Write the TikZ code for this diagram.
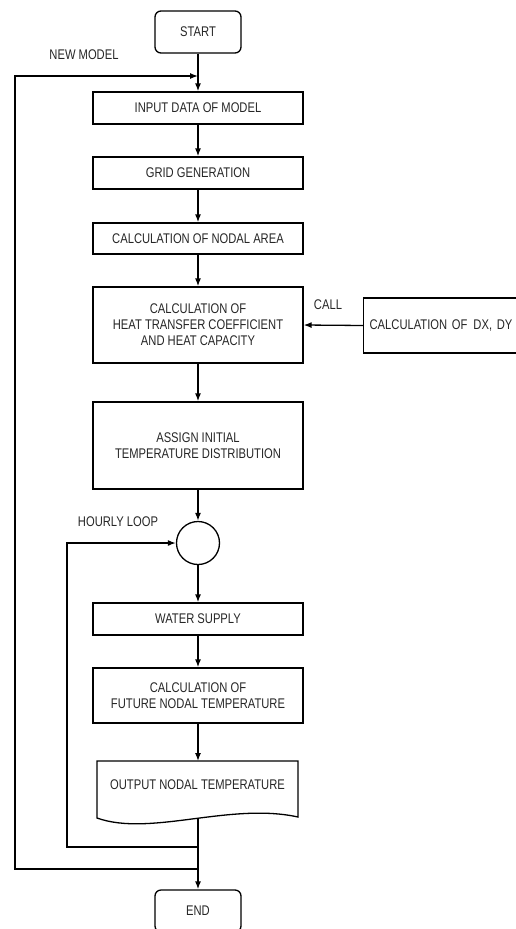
\documentclass[tikz,border=0pt]{standalone}
\usepackage{fontspec}
\setmainfont{Liberation Sans}[FakeStretch=0.8]
\usetikzlibrary{arrows.meta}
\begin{document}
\begin{tikzpicture}[x=1pt,y=-1pt,
  txt/.style={font=\fontsize{14}{16}\selectfont,text=black!85},
  box/.style={txt,draw=black,line width=1.3pt,minimum width=210pt,inner sep=0pt,align=center},
  term/.style={txt,draw=black,line width=1.3pt,rounded corners=6pt,minimum width=86pt,minimum height=42pt,inner sep=0pt},
  lbl/.style={txt,inner sep=0pt},
  ln/.style={line width=1.3pt},
  arr/.style={line width=1.3pt,-{Latex[length=8pt,width=6pt]}}]
\useasboundingbox (0,0) rectangle (516,929);
\clip (0,0) rectangle (516,929);
% nodes
\node[term] (start) at (198,32) {START};
\node[box,minimum height=32pt] (input) at (198,108) {INPUT DATA OF MODEL};
\node[box,minimum height=32pt] (grid) at (198,173) {GRID GENERATION};
\node[box,minimum height=31pt] (area) at (198,238.5) {CALCULATION OF NODAL AREA};
\node[box,minimum height=76pt] (heat) at (198,325) {CALCULATION OF\\HEAT TRANSFER COEFFICIENT\\AND HEAT CAPACITY};
\node[box,minimum height=87pt] (assign) at (198,445.5) {ASSIGN INITIAL\\TEMPERATURE DISTRIBUTION};
\node[circle,draw,line width=1.3pt,minimum size=43pt,inner sep=0pt] (loop) at (198,543) {};
\node[box,minimum height=32pt] (water) at (198,619) {WATER SUPPLY};
\node[box,minimum height=55pt] (future) at (198,695.5) {CALCULATION OF\\FUTURE NODAL TEMPERATURE};
\draw[ln] (97,761) -- (298,761) -- (298,817) .. controls (230,802) and (150,837) .. (97,818) -- cycle;
\node[lbl] (outtxt) at (197.5,785) {OUTPUT NODAL TEMPERATURE};
\coordinate (doctop) at (198,761);
\coordinate (docbot) at (198,818);
\node[term] (end) at (198,911) {END};
\node[txt,draw=black,line width=1.3pt,anchor=west,minimum height=55pt,text width=150pt,inner xsep=6pt,inner ysep=0pt,align=left] (dxdy) at (363,325.5) {CALCULATION OF\hspace{6pt}DX, DY};
% labels
\node[lbl] (newmodel) at (84,55) {NEW MODEL};
\node[lbl] (hourly) at (118,522) {HOURLY LOOP};
\node[lbl] (call) at (328,305) {CALL};
% connectors
\draw[arr] (start) -- (input);
\draw[arr] (input) -- (grid);
\draw[arr] (grid) -- (area);
\draw[arr] (area) -- (heat);
\draw[arr] (heat) -- (assign);
\draw[arr] (assign) -- (loop);
\draw[arr] (loop) -- (water);
\draw[arr] (water) -- (future);
\draw[arr] (future.south) -- (doctop);
\draw[arr] (docbot) -- (end.north);
\draw[arr] (dxdy.west) -- (heat.east);
\coordinate (h1) at (198,847);
\coordinate (h2) at (67,847);
\draw[arr] (h1) -- (h2) |- (loop.west);
\coordinate (o1) at (198,869);
\coordinate (o3) at (15,76);
\coordinate (o4) at (198,76);
\draw[arr] (o1) -| (o3) -- (o4);
\end{tikzpicture}
\end{document}
